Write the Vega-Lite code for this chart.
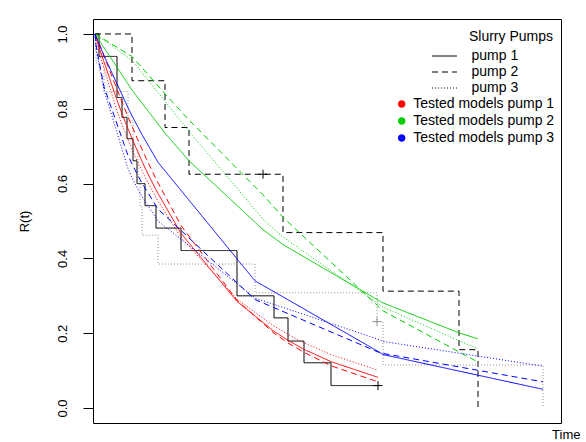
{
  "$schema": "https://vega.github.io/schema/vega-lite/v6.json",
  "width": 468,
  "height": 404,
  "autosize": {"type": "none"},
  "padding": {"left": 93, "top": 19, "right": 25, "bottom": 19},
  "title": {"text": "Slurry Pumps", "anchor": "end", "align": "right", "dx": -8, "dy": 40, "baseline": "alphabetic", "fontSize": 14, "fontWeight": "normal", "color": "black", "offset": 4, "frame": "group"},
  "datasets": {
    "km": [
      {"pump": 1, "lty": "pump 1", "t": 0, "R": 1.0},
      {"pump": 1, "lty": "pump 1", "t": 4, "R": 0.94},
      {"pump": 1, "lty": "pump 1", "t": 22, "R": 0.83},
      {"pump": 1, "lty": "pump 1", "t": 27, "R": 0.777},
      {"pump": 1, "lty": "pump 1", "t": 32, "R": 0.72},
      {"pump": 1, "lty": "pump 1", "t": 38, "R": 0.661},
      {"pump": 1, "lty": "pump 1", "t": 42, "R": 0.6},
      {"pump": 1, "lty": "pump 1", "t": 50, "R": 0.541},
      {"pump": 1, "lty": "pump 1", "t": 61, "R": 0.481},
      {"pump": 1, "lty": "pump 1", "t": 86, "R": 0.421},
      {"pump": 1, "lty": "pump 1", "t": 142, "R": 0.3},
      {"pump": 1, "lty": "pump 1", "t": 179, "R": 0.241},
      {"pump": 1, "lty": "pump 1", "t": 193, "R": 0.179},
      {"pump": 1, "lty": "pump 1", "t": 209, "R": 0.121},
      {"pump": 1, "lty": "pump 1", "t": 236, "R": 0.06},
      {"pump": 1, "lty": "pump 1", "t": 283, "R": 0.06},
      {"pump": 2, "lty": "pump 2", "t": 0, "R": 1.0},
      {"pump": 2, "lty": "pump 2", "t": 37, "R": 0.875},
      {"pump": 2, "lty": "pump 2", "t": 70, "R": 0.75},
      {"pump": 2, "lty": "pump 2", "t": 94, "R": 0.625},
      {"pump": 2, "lty": "pump 2", "t": 188, "R": 0.469},
      {"pump": 2, "lty": "pump 2", "t": 288, "R": 0.3125},
      {"pump": 2, "lty": "pump 2", "t": 364, "R": 0.156},
      {"pump": 2, "lty": "pump 2", "t": 383, "R": 0.0},
      {"pump": 3, "lty": "pump 3", "t": 0, "R": 1.0},
      {"pump": 3, "lty": "pump 3", "t": 1, "R": 0.923},
      {"pump": 3, "lty": "pump 3", "t": 9, "R": 0.846},
      {"pump": 3, "lty": "pump 3", "t": 33, "R": 0.769},
      {"pump": 3, "lty": "pump 3", "t": 38, "R": 0.692},
      {"pump": 3, "lty": "pump 3", "t": 43, "R": 0.615},
      {"pump": 3, "lty": "pump 3", "t": 45, "R": 0.538},
      {"pump": 3, "lty": "pump 3", "t": 47, "R": 0.462},
      {"pump": 3, "lty": "pump 3", "t": 63, "R": 0.385},
      {"pump": 3, "lty": "pump 3", "t": 160, "R": 0.308},
      {"pump": 3, "lty": "pump 3", "t": 282, "R": 0.231},
      {"pump": 3, "lty": "pump 3", "t": 288, "R": 0.115},
      {"pump": 3, "lty": "pump 3", "t": 448, "R": 0.0}
    ],
    "censor": [
      {"pump": 1, "t": 283, "R": 0.06},
      {"pump": 2, "t": 168, "R": 0.625},
      {"pump": 3, "t": 282, "R": 0.231}
    ],
    "models": [
      {"pump": 1, "lty": "pump 1", "t": 0, "R": 1.0},
      {"pump": 1, "lty": "pump 1", "t": 4, "R": 0.965},
      {"pump": 1, "lty": "pump 1", "t": 22, "R": 0.823},
      {"pump": 1, "lty": "pump 1", "t": 27, "R": 0.787},
      {"pump": 1, "lty": "pump 1", "t": 32, "R": 0.753},
      {"pump": 1, "lty": "pump 1", "t": 38, "R": 0.714},
      {"pump": 1, "lty": "pump 1", "t": 42, "R": 0.69},
      {"pump": 1, "lty": "pump 1", "t": 50, "R": 0.642},
      {"pump": 1, "lty": "pump 1", "t": 61, "R": 0.583},
      {"pump": 1, "lty": "pump 1", "t": 86, "R": 0.467},
      {"pump": 1, "lty": "pump 1", "t": 142, "R": 0.285},
      {"pump": 1, "lty": "pump 1", "t": 179, "R": 0.205},
      {"pump": 1, "lty": "pump 1", "t": 193, "R": 0.181},
      {"pump": 1, "lty": "pump 1", "t": 209, "R": 0.157},
      {"pump": 1, "lty": "pump 1", "t": 236, "R": 0.124},
      {"pump": 1, "lty": "pump 1", "t": 283, "R": 0.082},
      {"pump": 1, "lty": "pump 2", "t": 0, "R": 1.0},
      {"pump": 1, "lty": "pump 2", "t": 4, "R": 0.976},
      {"pump": 1, "lty": "pump 2", "t": 22, "R": 0.852},
      {"pump": 1, "lty": "pump 2", "t": 27, "R": 0.818},
      {"pump": 1, "lty": "pump 2", "t": 32, "R": 0.785},
      {"pump": 1, "lty": "pump 2", "t": 38, "R": 0.747},
      {"pump": 1, "lty": "pump 2", "t": 42, "R": 0.722},
      {"pump": 1, "lty": "pump 2", "t": 50, "R": 0.674},
      {"pump": 1, "lty": "pump 2", "t": 61, "R": 0.612},
      {"pump": 1, "lty": "pump 2", "t": 86, "R": 0.488},
      {"pump": 1, "lty": "pump 2", "t": 142, "R": 0.288},
      {"pump": 1, "lty": "pump 2", "t": 179, "R": 0.2},
      {"pump": 1, "lty": "pump 2", "t": 193, "R": 0.174},
      {"pump": 1, "lty": "pump 2", "t": 209, "R": 0.149},
      {"pump": 1, "lty": "pump 2", "t": 236, "R": 0.113},
      {"pump": 1, "lty": "pump 2", "t": 283, "R": 0.07},
      {"pump": 1, "lty": "pump 3", "t": 0, "R": 1.0},
      {"pump": 1, "lty": "pump 3", "t": 4, "R": 0.952},
      {"pump": 1, "lty": "pump 3", "t": 22, "R": 0.794},
      {"pump": 1, "lty": "pump 3", "t": 27, "R": 0.758},
      {"pump": 1, "lty": "pump 3", "t": 32, "R": 0.724},
      {"pump": 1, "lty": "pump 3", "t": 38, "R": 0.686},
      {"pump": 1, "lty": "pump 3", "t": 42, "R": 0.662},
      {"pump": 1, "lty": "pump 3", "t": 50, "R": 0.618},
      {"pump": 1, "lty": "pump 3", "t": 61, "R": 0.562},
      {"pump": 1, "lty": "pump 3", "t": 86, "R": 0.456},
      {"pump": 1, "lty": "pump 3", "t": 142, "R": 0.291},
      {"pump": 1, "lty": "pump 3", "t": 179, "R": 0.219},
      {"pump": 1, "lty": "pump 3", "t": 193, "R": 0.197},
      {"pump": 1, "lty": "pump 3", "t": 209, "R": 0.174},
      {"pump": 1, "lty": "pump 3", "t": 236, "R": 0.143},
      {"pump": 1, "lty": "pump 3", "t": 283, "R": 0.101},
      {"pump": 2, "lty": "pump 1", "t": 0, "R": 1.0},
      {"pump": 2, "lty": "pump 1", "t": 37, "R": 0.85},
      {"pump": 2, "lty": "pump 1", "t": 70, "R": 0.735},
      {"pump": 2, "lty": "pump 1", "t": 94, "R": 0.661},
      {"pump": 2, "lty": "pump 1", "t": 168, "R": 0.477},
      {"pump": 2, "lty": "pump 1", "t": 188, "R": 0.437},
      {"pump": 2, "lty": "pump 1", "t": 288, "R": 0.281},
      {"pump": 2, "lty": "pump 1", "t": 364, "R": 0.201},
      {"pump": 2, "lty": "pump 1", "t": 383, "R": 0.185},
      {"pump": 2, "lty": "pump 2", "t": 0, "R": 1.0},
      {"pump": 2, "lty": "pump 2", "t": 37, "R": 0.94},
      {"pump": 2, "lty": "pump 2", "t": 70, "R": 0.84},
      {"pump": 2, "lty": "pump 2", "t": 94, "R": 0.77},
      {"pump": 2, "lty": "pump 2", "t": 168, "R": 0.57},
      {"pump": 2, "lty": "pump 2", "t": 188, "R": 0.51},
      {"pump": 2, "lty": "pump 2", "t": 288, "R": 0.26},
      {"pump": 2, "lty": "pump 2", "t": 364, "R": 0.15},
      {"pump": 2, "lty": "pump 2", "t": 383, "R": 0.123},
      {"pump": 2, "lty": "pump 3", "t": 0, "R": 1.0},
      {"pump": 2, "lty": "pump 3", "t": 37, "R": 0.93},
      {"pump": 2, "lty": "pump 3", "t": 70, "R": 0.82},
      {"pump": 2, "lty": "pump 3", "t": 94, "R": 0.74},
      {"pump": 2, "lty": "pump 3", "t": 168, "R": 0.505},
      {"pump": 2, "lty": "pump 3", "t": 188, "R": 0.457},
      {"pump": 2, "lty": "pump 3", "t": 288, "R": 0.27},
      {"pump": 2, "lty": "pump 3", "t": 364, "R": 0.18},
      {"pump": 2, "lty": "pump 3", "t": 383, "R": 0.159},
      {"pump": 3, "lty": "pump 1", "t": 0, "R": 1.0},
      {"pump": 3, "lty": "pump 1", "t": 1, "R": 0.993},
      {"pump": 3, "lty": "pump 1", "t": 9, "R": 0.942},
      {"pump": 3, "lty": "pump 1", "t": 33, "R": 0.803},
      {"pump": 3, "lty": "pump 1", "t": 38, "R": 0.776},
      {"pump": 3, "lty": "pump 1", "t": 43, "R": 0.751},
      {"pump": 3, "lty": "pump 1", "t": 45, "R": 0.741},
      {"pump": 3, "lty": "pump 1", "t": 47, "R": 0.731},
      {"pump": 3, "lty": "pump 1", "t": 63, "R": 0.657},
      {"pump": 3, "lty": "pump 1", "t": 160, "R": 0.34},
      {"pump": 3, "lty": "pump 1", "t": 282, "R": 0.153},
      {"pump": 3, "lty": "pump 1", "t": 288, "R": 0.143},
      {"pump": 3, "lty": "pump 1", "t": 448, "R": 0.05},
      {"pump": 3, "lty": "pump 2", "t": 0, "R": 1.0},
      {"pump": 3, "lty": "pump 2", "t": 1, "R": 0.97},
      {"pump": 3, "lty": "pump 2", "t": 9, "R": 0.859},
      {"pump": 3, "lty": "pump 2", "t": 33, "R": 0.675},
      {"pump": 3, "lty": "pump 2", "t": 38, "R": 0.647},
      {"pump": 3, "lty": "pump 2", "t": 43, "R": 0.621},
      {"pump": 3, "lty": "pump 2", "t": 45, "R": 0.611},
      {"pump": 3, "lty": "pump 2", "t": 47, "R": 0.601},
      {"pump": 3, "lty": "pump 2", "t": 63, "R": 0.532},
      {"pump": 3, "lty": "pump 2", "t": 160, "R": 0.29},
      {"pump": 3, "lty": "pump 2", "t": 282, "R": 0.151},
      {"pump": 3, "lty": "pump 2", "t": 288, "R": 0.146},
      {"pump": 3, "lty": "pump 2", "t": 448, "R": 0.07},
      {"pump": 3, "lty": "pump 3", "t": 0, "R": 1.0},
      {"pump": 3, "lty": "pump 3", "t": 1, "R": 0.96},
      {"pump": 3, "lty": "pump 3", "t": 9, "R": 0.85},
      {"pump": 3, "lty": "pump 3", "t": 33, "R": 0.64},
      {"pump": 3, "lty": "pump 3", "t": 38, "R": 0.61},
      {"pump": 3, "lty": "pump 3", "t": 43, "R": 0.585},
      {"pump": 3, "lty": "pump 3", "t": 45, "R": 0.575},
      {"pump": 3, "lty": "pump 3", "t": 47, "R": 0.565},
      {"pump": 3, "lty": "pump 3", "t": 63, "R": 0.5},
      {"pump": 3, "lty": "pump 3", "t": 160, "R": 0.294},
      {"pump": 3, "lty": "pump 3", "t": 282, "R": 0.185},
      {"pump": 3, "lty": "pump 3", "t": 288, "R": 0.178},
      {"pump": 3, "lty": "pump 3", "t": 448, "R": 0.112}
    ]
  },
  "encoding": {
    "x": {"field": "t", "type": "quantitative", "scale": {"domain": [-2, 466], "nice": false, "zero": false},
      "axis": {"title": "Time", "labels": false, "ticks": false, "domain": false, "grid": false, "titleX": 487, "titleY": 15, "titleAlign": "right", "titleAnchor": null, "titleBaseline": "alphabetic", "titleFontSize": 13, "titleFontWeight": "normal"}},
    "y": {"field": "R", "type": "quantitative", "scale": {"domain": [-0.04, 1.04], "nice": false, "zero": false},
      "axis": {"title": "R(t)", "values": [0, 0.2, 0.4, 0.6, 0.8, 1.0], "format": ".1f", "labelAngle": 270, "labelAlign": "center", "labelBaseline": "bottom", "tickSize": 10, "labelPadding": 14, "domain": false, "grid": false, "labelFontSize": 13, "titleFontSize": 13, "titleFontWeight": "normal", "titleAngle": 270, "titleX": -69, "titleY": 202, "titleAlign": "center", "titleBaseline": "middle"}}
  },
  "layer": [
    {
      "data": {"name": "km"},
      "mark": {"type": "line", "interpolate": "step-after", "strokeWidth": 1},
      "encoding": {
        "color": {"condition": {"test": "datum.pump == 3", "value": "#909090"}, "value": "black"},
        "strokeDash": {"field": "lty", "type": "nominal", "scale": {"domain": ["pump 1", "pump 2", "pump 3"], "range": [[1, 0], [6, 4], [1, 2]]},
          "legend": {"title": null, "orient": "none", "legendX": 344.5, "legendY": 30, "symbolType": "M-3,0H3", "symbolSize": 69, "symbolStrokeColor": "black", "symbolStrokeWidth": 1, "labelFontSize": 14, "labelOffset": 20, "rowPadding": 2, "labelColor": "black"}},
        "detail": {"field": "pump"}
      }
    },
    {
      "data": {"name": "censor"},
      "mark": {"type": "point", "shape": "M-1,0H1M0,-1V1", "size": 81, "filled": false, "strokeWidth": 1, "opacity": 1},
      "encoding": {
        "color": {"condition": {"test": "datum.pump == 3", "value": "#909090"}, "value": "black"}
      }
    },
    {
      "data": {"name": "models"},
      "mark": {"type": "line", "strokeWidth": 1},
      "encoding": {
        "color": {"field": "pump", "type": "nominal", "scale": {"domain": [1, 2, 3], "range": ["#FF0000", "#00CD00", "#0000FF"]},
          "legend": {"title": null, "orient": "none", "legendX": 301.7, "legendY": 78, "symbolType": "circle", "symbolSize": 12, "symbolStrokeWidth": 4, "labelFontSize": 14, "labelOffset": 4.6, "rowPadding": -3.5, "labelExpr": "'Tested models pump ' + datum.label", "labelColor": "black"}},
        "strokeDash": {"field": "lty", "type": "nominal"}
      }
    }
  ],
  "config": {
    "font": "Liberation Sans",
    "view": {"stroke": "black", "strokeWidth": 1},
    "axis": {"labelColor": "black", "titleColor": "black", "tickColor": "black", "labelFont": "Liberation Sans", "titleFont": "Liberation Sans"},
    "legend": {"labelFont": "Liberation Sans", "labelColor": "black"},
    "title": {"font": "Liberation Sans"}
  }
}
